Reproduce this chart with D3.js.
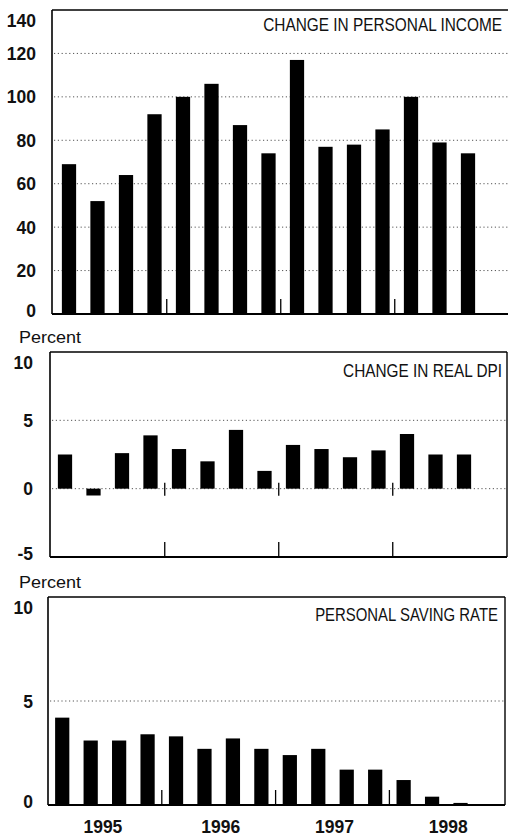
<!DOCTYPE html>
<html>
<head>
<meta charset="utf-8">
<script src="https://cdn.jsdelivr.net/npm/d3@7"></script>
<style>
  html, body { margin: 0; padding: 0; background: #fff; }
  svg { display: block; }
  .lbl { font-family: "Liberation Sans", Arial, sans-serif; font-weight: bold; font-size: 17.5px; fill: #111; }
  .ttl { font-family: "Liberation Sans Narrow", "Liberation Sans", Arial, sans-serif; font-size: 17.5px; fill: #111; }
  .pct { font-family: "Liberation Sans", Arial, sans-serif; font-size: 17px; fill: #111; }
</style>
</head>
<body>
<script>
// ---- data ----
const quarters = ["1995Q1","1995Q2","1995Q3","1995Q4","1996Q1","1996Q2","1996Q3","1996Q4",
                  "1997Q1","1997Q2","1997Q3","1997Q4","1998Q1","1998Q2","1998Q3","1998Q4"];
const years = ["1995","1996","1997","1998"];
const incomeChange = [69, 52, 64, 92, 100, 106, 87, 74, 117, 77, 78, 85, 100, 79, 74];
const realDpiChange = [2.5, -0.5, 2.6, 3.9, 2.9, 2.0, 4.3, 1.3, 3.2, 2.9, 2.3, 2.8, 4.0, 2.5, 2.5];
const savingRate = [4.2, 3.1, 3.1, 3.4, 3.3, 2.7, 3.2, 2.7, 2.4, 2.7, 1.7, 1.7, 1.2, 0.4, 0.1];
const incomeTicks = [0, 20, 40, 60, 80, 100, 120, 140];
const dpiTicks = [-5, 0, 5, 10];
const savingTicks = [0, 5, 10];

const W = 508, H = 837;
const svg = d3.select("body").append("svg").attr("width", W).attr("height", H);
svg.append("rect").attr("width", W).attr("height", H).attr("fill", "#fff");

function panel(cfg) {
  const g = svg.append("g");
  const y = d3.scaleLinear().domain(cfg.domain).range([cfg.bottom, cfg.top]);
  const x = d3.scaleBand().domain(quarters).range(cfg.band).paddingInner(0.5).paddingOuter(0.25);
  const step = x.step();

  // gridlines (dotted)
  g.selectAll("line.grid").data(cfg.grid).enter().append("line")
    .attr("x1", cfg.left + 2).attr("x2", cfg.right)
    .attr("y1", d => y(d)).attr("y2", d => y(d))
    .attr("stroke", "#555").attr("stroke-width", 1).attr("stroke-dasharray", "1.2,2.6");

  // bars
  const data = cfg.values.map((v, i) => ({q: quarters[i], v}));
  g.selectAll("rect.bar").data(data).enter().append("rect")
    .attr("x", d => x(d.q))
    .attr("width", x.bandwidth())
    .attr("y", d => Math.min(y(0), y(d.v)))
    .attr("height", d => Math.max(1.5, Math.abs(y(d.v) - y(0))))
    .attr("fill", "#000");

  // frame
  const fr = g.append("g").attr("stroke", "#000").attr("fill", "none");
  fr.append("line").attr("x1", cfg.left).attr("x2", cfg.right).attr("y1", cfg.top).attr("y2", cfg.top).attr("stroke-width", 1.6);
  fr.append("line").attr("x1", cfg.left).attr("x2", cfg.right).attr("y1", cfg.bottom).attr("y2", cfg.bottom).attr("stroke-width", 1.8);
  fr.append("line").attr("x1", cfg.left).attr("x2", cfg.left).attr("y1", cfg.top).attr("y2", cfg.bottom).attr("stroke-width", 1.6);
  fr.append("line").attr("x1", cfg.right).attr("x2", cfg.right).attr("y1", cfg.top).attr("y2", cfg.bottom).attr("stroke-width", 1.4);

  // year separator ticks
  const sepX = [4, 8, 12].map(i => x(quarters[i]) - step * 0.25 + (cfg.tickShift || 0));
  sepX.forEach(sx => {
    g.append("line").attr("x1", sx).attr("x2", sx)
      .attr("y1", cfg.bottom).attr("y2", cfg.bottom - 15)
      .attr("stroke", "#000").attr("stroke-width", 1.3);
    if (cfg.midTick) {
      g.append("line").attr("x1", sx).attr("x2", sx)
        .attr("y1", y(0) - 6).attr("y2", y(0) + 7)
        .attr("stroke", "#000").attr("stroke-width", 1.3);
    }
  });

  // y axis labels
  const ax = d3.axisLeft(y).tickValues(cfg.ticks).tickSize(0).tickPadding(0).tickFormat(d => String(d));
  const ag = g.append("g").attr("transform", `translate(${cfg.labelX},0)`).call(ax);
  ag.select(".domain").remove();
  ag.selectAll("text").attr("class", "lbl").attr("font-size", null).attr("font-family", null)
    .attr("fill", null)
    .attr("dy", d => d === cfg.domain[1] ? "0.95em" : (d === cfg.domain[0] ? "0.15em" : "0.35em"));

  // title, horizontally condensed to the reference width
  const t = g.append("text").attr("class", "ttl")
    .attr("x", 0).attr("y", 0)
    .attr("text-anchor", "end")
    .text(cfg.title);
  const len = t.node().getComputedTextLength();
  const sx = (cfg.titleX[1] - cfg.titleX[0]) / len;
  t.attr("transform", `translate(${cfg.titleX[1]},${cfg.titleY}) scale(${sx},1)`);

  if (cfg.percentY) {
    const p = g.append("text").attr("class", "pct").attr("x", 0).attr("y", 0).text("Percent");
    const pl = p.node().getComputedTextLength();
    p.attr("transform", `translate(19,${cfg.percentY}) scale(${62 / pl},1)`);
  }
  return {x, y, step};
}

panel({
  domain: [0, 140], top: 10, bottom: 314, left: 52, right: 511,
  band: [54.75, 54.75 + 16 * 28.5], grid: [20, 40, 60, 80, 100, 120],
  values: incomeChange, ticks: incomeTicks, labelX: 36, tickShift: -2,
  title: "CHANGE IN PERSONAL  INCOME", titleX: [263, 502], titleY: 31
});

panel({
  domain: [-5, 10], top: 352, bottom: 557, left: 50, right: 507,
  band: [50.75, 50.75 + 16 * 28.5], grid: [0, 5], midTick: true,
  values: realDpiChange, ticks: dpiTicks, labelX: 33,
  title: "CHANGE IN REAL DPI", titleX: [343, 502], titleY: 377, percentY: 343
});

const bottomP = panel({
  domain: [0, 10], top: 597, bottom: 805, left: 48, right: 505,
  band: [48, 48 + 16 * 28.45], grid: [5],
  values: savingRate, ticks: savingTicks, labelX: 33,
  title: "PERSONAL SAVING RATE", titleX: [315, 498], titleY: 621, percentY: 588
});

// year labels, centred on each year's span of quarters
svg.selectAll("text.year").data(years).enter().append("text")
  .attr("class", "lbl")
  .attr("text-anchor", "middle")
  .attr("x", (d, i) => bottomP.x(quarters[4 * i]) - bottomP.step * 0.25 + bottomP.step * 2 + (i === 0 ? -2 : 2))
  .attr("y", 833)
  .text(d => d);
</script>
</body>
</html>
